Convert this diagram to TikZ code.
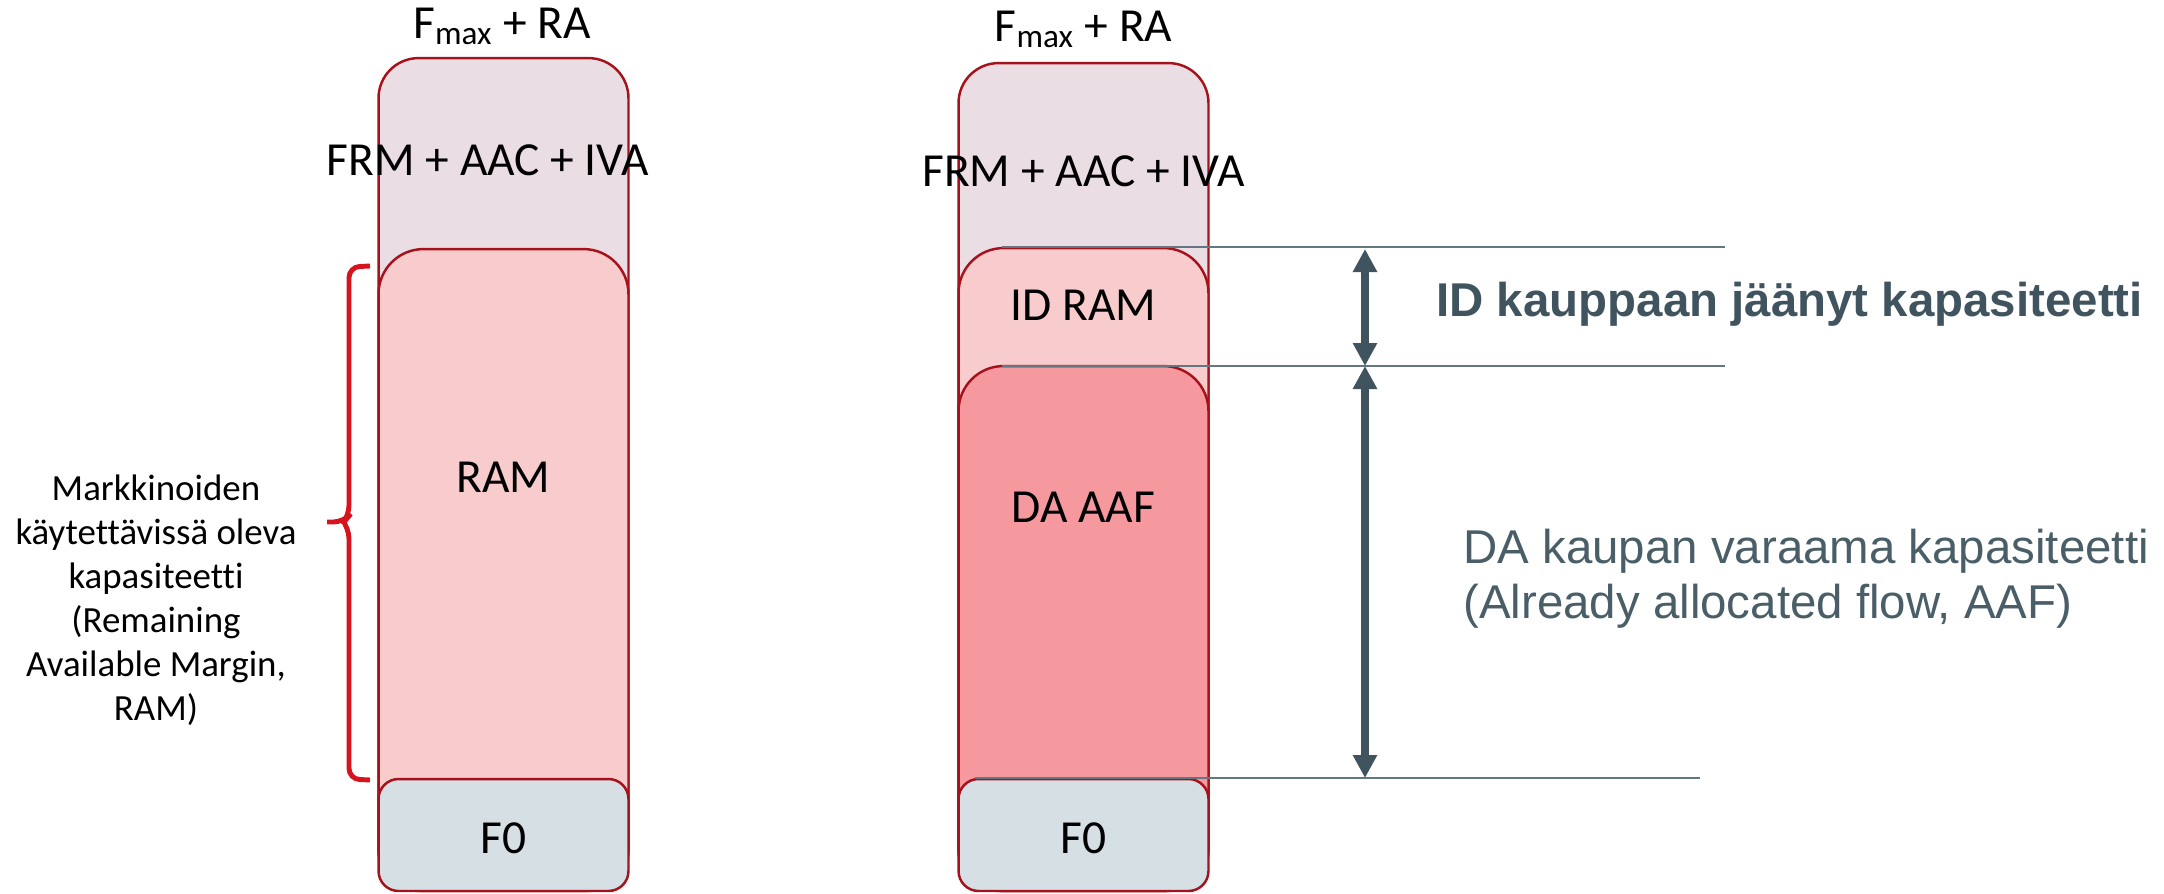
\documentclass[tikz,border=0pt]{standalone}
\usepackage{fontspec}
\setmainfont{Carlito}[Ligatures=NoCommon]
\newfontfamily\arialfont{Liberation Sans}
\usepackage{tikz}
\usetikzlibrary{arrows.meta, positioning}
\definecolor{boxline}{RGB}{165,18,28}
\definecolor{topfill}{RGB}{235,221,228}
\definecolor{ramfill}{RGB}{248,203,204}
\definecolor{aaffill}{RGB}{245,153,158}
\definecolor{fzerofill}{RGB}{213,223,228}
\definecolor{bracered}{RGB}{215,20,30}
\definecolor{slate}{RGB}{64,84,95}
\definecolor{slatetext}{RGB}{74,94,104}
\definecolor{guidegray}{RGB}{100,118,128}

\begin{document}
\begin{tikzpicture}[
    x=0.02cm, y=-0.02cm,
    stackbox/.style={draw=boxline, line width=1.4pt, fill=#1, inner sep=0pt, outer sep=0pt, minimum width=5cm},
    boxlabel/.style={font=\fontsize{27}{31}\selectfont, anchor=base},
    guide/.style={draw=guidegray, line width=1.1pt},
    dimarrow/.style={{Triangle[length=0.46cm,width=0.46cm]}-{Triangle[length=0.46cm,width=0.46cm]}, line width=0.16cm, draw=slate}
]
    \useasboundingbox (0,0) rectangle (2164,893);

    % Left column
    \node[stackbox=topfill, minimum height=16.66cm, rounded corners=0.8cm] (leftall) at (503.5,474.5) {};
    \node[stackbox=ramfill, minimum height=12.84cm, rounded corners=0.9cm] (leftram) at (503.5,570) {};
    \node[stackbox=fzerofill, minimum height=2.24cm, rounded corners=0.4cm] (leftfzero) at (503.5,835) {};
    \node[boxlabel] (lefttitle) at (502,38) {F\textsubscript{max} + RA};
    \node[boxlabel] (leftfrm) at (488,175) {FRM + AAC + IVA};
    \node[boxlabel] (leftramtext) at (503.5,492) {RAM};
    \node[boxlabel] (leftfzerotext) at (503.5,853) {F0};

    % Right column
    \node[stackbox=topfill, minimum height=16.56cm, rounded corners=0.8cm] (rightall) at (1083.5,477) {};
    \node[stackbox=ramfill, minimum height=12.86cm, rounded corners=0.9cm] (rightid) at (1083.5,569.5) {};
    \node[stackbox=aaffill, minimum height=10.5cm, rounded corners=0.9cm] (rightaaf) at (1083.5,628.5) {};
    \node[stackbox=fzerofill, minimum height=2.24cm, rounded corners=0.4cm] (rightfzero) at (1083.5,835) {};
    \node[boxlabel] (righttitle) at (1083.5,41) {F\textsubscript{max} + RA};
    \node[boxlabel] (rightfrm) at (1083.5,186) {FRM + AAC + IVA};
    \node[boxlabel] (rightidtext) at (1083.5,320) {ID RAM};
    \node[boxlabel] (rightaaftext) at (1083.5,522) {DA AAF};
    \node[boxlabel] (rightfzerotext) at (1083.5,853) {F0};

    % Brace and remaining margin text
    \draw[bracered, line width=2.8pt, rounded corners=6pt]
        (370,266) -- (349,267) -- (349,516) -- (344,522) -- (327,522)
        (344,522) -- (349,528) -- (349,779) -- (370,780);
    \node[font=\fontsize{21}{25}\selectfont, align=center] (margintext) at (156,600)
        {Markkinoiden\\käytettävissä oleva\\kapasiteetti\\(Remaining\\Available Margin,\\RAM)};

    % Guide lines
    \coordinate (idtopw) at (1002,247);
    \coordinate (idtope) at (1725,247);
    \coordinate (aaftopw) at (1002,366);
    \coordinate (aaftope) at (1725,366);
    \coordinate (fzerotopw) at (975,778);
    \coordinate (fzerotope) at (1700,778);
    \draw[guide] (idtopw) -- (idtope);
    \draw[guide] (aaftopw) -- (aaftope);
    \draw[guide] (fzerotopw) -- (fzerotope);

    % Dimension arrows
    \coordinate (idarrtop) at (1365,249);
    \coordinate (idarrbot) at (1365,366);
    \coordinate (aafarrbot) at (1365,778);
    \draw[dimarrow] (idarrtop) -- (idarrbot);
    \draw[dimarrow] (idarrbot) -- (aafarrbot);

    % Right side texts
    \node[font=\arialfont\bfseries\fontsize{27}{32}\selectfont, text=slate, anchor=base west, inner sep=0pt] (idtext) at (1436,316)
        {ID kauppaan jäänyt kapasiteetti};
    \node[font=\arialfont\fontsize{27}{31.3}\selectfont, text=slatetext, align=left, anchor=base west, inner sep=0pt] (aaftext) at (1463,618)
        {DA kaupan varaama kapasiteetti\\(Already allocated flow, AAF)};
\end{tikzpicture}
\end{document}
